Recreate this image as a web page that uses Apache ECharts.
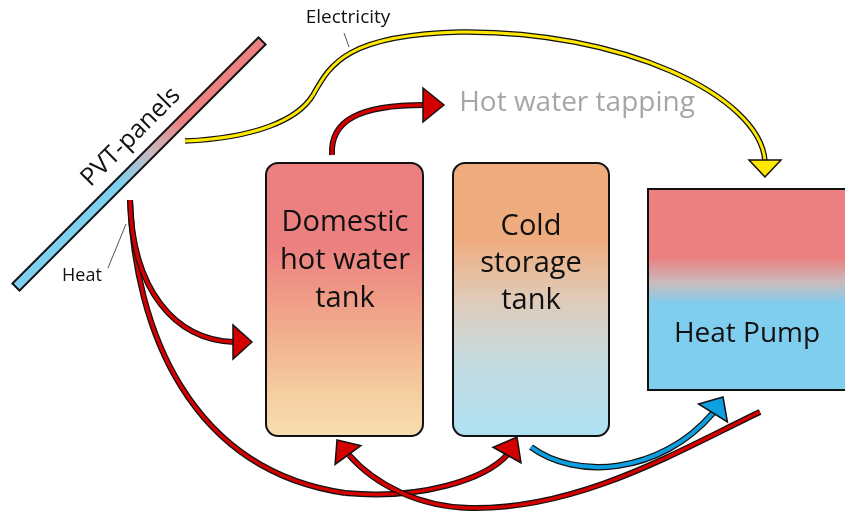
<!DOCTYPE html>
<html>
<head>
<meta charset="utf-8">
<script src="https://cdn.jsdelivr.net/npm/echarts@6/dist/echarts.min.js"></script>
<style>
  html, body { margin: 0; padding: 0; background: #fff; }
  #main { width: 845px; height: 512px; }
</style>
</head>
<body>
<div id="main"></div>
<script>
// labels of the diagram
var panelLabel = 'PVT-panels';
var flowLabels = ['Electricity', 'Heat', 'Hot water tapping'];
var tankLabels = [['Domestic', 'hot water', 'tank'], ['Cold', 'storage', 'tank']];
var pumpLabel = 'Heat Pump';

var FONT = '"Open Sans", "Noto Sans", sans-serif';
var RED = '#d40000', BLUE = '#0d9fe0', YELLOW = '#ffe800';

function grad(stops) {
  return new echarts.graphic.LinearGradient(0, 0, 0, 1, stops.map(function (s) {
    return { offset: s[0], color: s[1] };
  }));
}

// a pipe = black outline + coloured core, built from cubic segments
// segs: [x1,y1, cx1,cy1, cx2,cy2, x2,y2]
function pipe(segs, color, w) {
  var out = [];
  [['#111', w + 2.5], [color, w]].forEach(function (p) {
    segs.forEach(function (s) {
      out.push({
        type: 'bezierCurve',
        shape: { x1: s[0], y1: s[1], cpx1: s[2], cpy1: s[3], cpx2: s[4], cpy2: s[5], x2: s[6], y2: s[7] },
        style: { fill: null, stroke: p[0], lineWidth: p[1], lineCap: 'butt' }
      });
    });
  });
  return out;
}

// triangle from base midpoint to tip
function head(tip, base, hw, color) {
  var dx = tip[0] - base[0], dy = tip[1] - base[1];
  var l = Math.sqrt(dx * dx + dy * dy);
  var nx = -dy / l * hw, ny = dx / l * hw;
  return {
    type: 'polygon',
    shape: { points: [tip, [base[0] + nx, base[1] + ny], [base[0] - nx, base[1] - ny]] },
    style: { fill: color, stroke: '#111', lineWidth: 1.5, lineJoin: 'miter' }
  };
}

function label(text, x, y, size, color, extra) {
  var el = {
    type: 'text', x: x, y: y,
    style: { text: text, font: size + 'px ' + FONT, fill: color || '#111', align: 'center', verticalAlign: 'middle' }
  };
  return Object.assign(el, extra || {});
}

var els = [];

// tanks
els.push({
  type: 'rect', shape: { x: 266, y: 163, width: 157, height: 273, r: 12 },
  style: { fill: grad([[0, '#ec7f7f'], [0.3, '#ec7f7f'], [0.6, '#f1ab8c'], [0.85, '#f5cfa2'], [1, '#f7ddb0']]), stroke: '#111', lineWidth: 2 }
});
els.push({
  type: 'rect', shape: { x: 453, y: 163, width: 156, height: 273, r: 12 },
  style: { fill: grad([[0, '#efab7c'], [0.28, '#efac7e'], [0.5, '#dfcbb9'], [0.72, '#c6dbe0'], [1, '#ade1f3']]), stroke: '#111', lineWidth: 2 }
});
// heat pump
els.push({
  type: 'rect', shape: { x: 648, y: 189, width: 210, height: 201 },
  style: { fill: grad([[0, '#ec7f7f'], [0.34, '#ec7f7f'], [0.47, '#c9bcbf'], [0.57, '#80cdee'], [1, '#7fcfef']]), stroke: '#111', lineWidth: 2 }
});

tankLabels[0].forEach(function (t, i) { els.push(label(t, 345, 223 + i * 38, 29)); });
tankLabels[1].forEach(function (t, i) { els.push(label(t, 531, 227 + i * 37, 29)); });
els.push(label(pumpLabel, 747, 334, 28));

// PVT panel
els.push({
  type: 'rect', x: 139, y: 164, rotation: Math.PI / 4,
  shape: { x: -174, y: -5, width: 348, height: 10 },
  style: {
    fill: new echarts.graphic.LinearGradient(0, 0, 1, 0, [
      { offset: 0, color: '#7fcfef' }, { offset: 0.42, color: '#7fcfef' },
      { offset: 0.55, color: '#c9b9bd' }, { offset: 0.68, color: '#ec7f7f' }, { offset: 1, color: '#ec7f7f' }
    ]),
    stroke: '#111', lineWidth: 2
  }
});
els.push(label(panelLabel, 131, 137, 25, '#111', { rotation: Math.PI / 4 }));

// electricity
els = els.concat(pipe([
  [185, 141, 255, 138, 298, 120, 313, 95],
  [313, 95, 330, 65, 345, 35, 460, 32],
  [460, 32, 620, 30, 760, 95, 765, 161]
], YELLOW, 3));
els.push(head([765, 177], [765, 160], 16, YELLOW));
els.push(label(flowLabels[0], 348, 18, 19));
els.push({ type: 'line', shape: { x1: 344, y1: 33, x2: 349, y2: 47 }, style: { stroke: '#555', lineWidth: 1 } });

// hot water tapping
els = els.concat(pipe([[332, 155, 330, 120, 360, 105, 424, 105]], RED, 3.5));
els.push(head([444, 105], [423, 105], 17, RED));
els.push(label(flowLabels[2], 577, 103, 28, '#a6a6a6'));

// heat from panels
els = els.concat(pipe([
  [130, 200, 135, 330, 190, 470, 345, 493],
  [345, 493, 420, 500, 485, 480, 508, 454]
], RED, 3.5));
els.push(head([517, 437], [507, 455], 16, RED));
els = els.concat(pipe([[130, 200, 132, 290, 175, 340, 234, 342]], RED, 3.5));
els.push(head([252, 342], [233, 342], 17, RED));
els.push(label(flowLabels[1], 82, 276, 18));
els.push({ type: 'line', shape: { x1: 108, y1: 268, x2: 126, y2: 224 }, style: { stroke: '#555', lineWidth: 1 } });

// heat pump outputs
els = els.concat(pipe([
  [760, 412, 680, 450, 580, 510, 470, 508],
  [470, 508, 420, 507, 375, 485, 349, 455]
], RED, 3.5));
els.push(head([337, 440], [348, 455], 16, RED));
els = els.concat(pipe([[531, 447, 575, 480, 660, 475, 713, 413]], BLUE, 4));
els.push(head([723, 397], [713, 413], 17, BLUE));

var chart = echarts.init(document.getElementById('main'));
chart.setOption({
  backgroundColor: '#fff',
  animation: false,
  graphic: { elements: els }
});
</script>
</body>
</html>
